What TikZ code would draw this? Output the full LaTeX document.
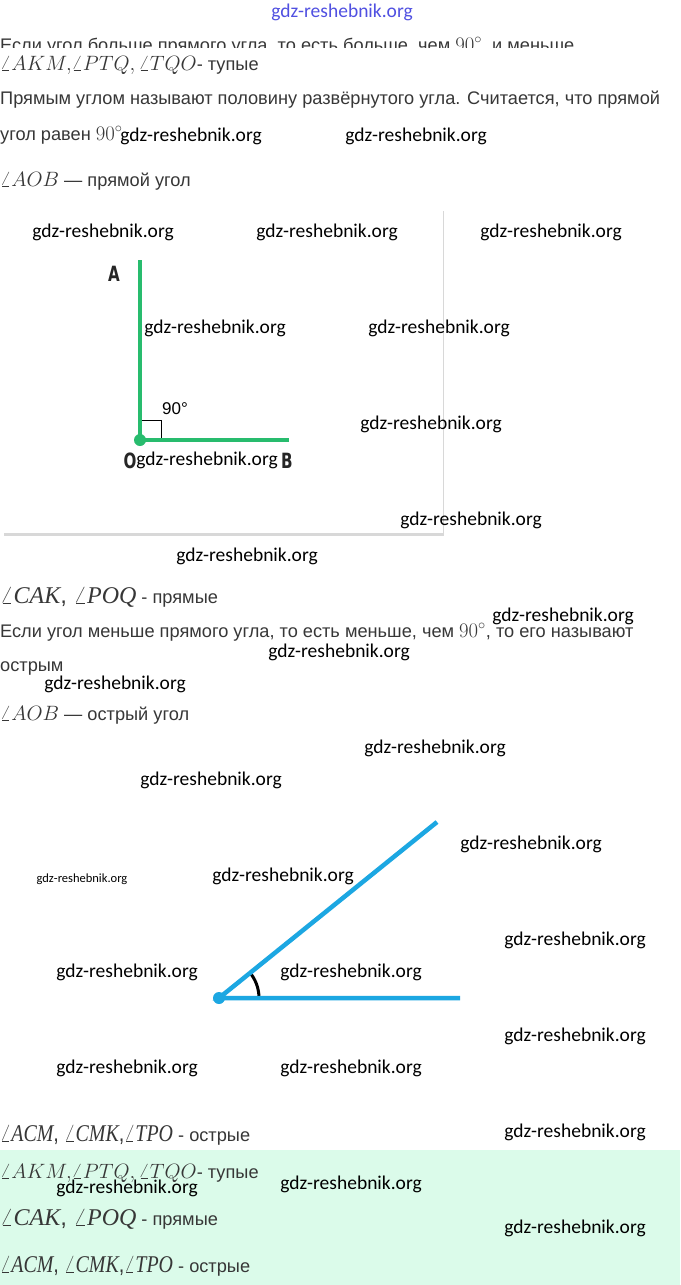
\documentclass[tikz,border=0pt]{standalone}
\usepackage{fontspec}
\usepackage{graphicx}
\setmainfont{Liberation Sans}
\newfontfamily\wmfont{Carlito}
\newfontfamily\timesf{Liberation Serif}
\newfontfamily\condf{DejaVu Sans}[FakeStretch=0.72]
\usetikzlibrary{shadows}
\definecolor{txt}{RGB}{55,55,55}
\definecolor{mint}{RGB}{219,251,234}
\definecolor{gline}{RGB}{40,188,110}
\definecolor{bline}{RGB}{28,167,226}
\definecolor{wmblue}{RGB}{80,80,225}
\tikzset{
  wm/.style={font=\wmfont\fontsize{19.5}{20}\selectfont, text=black, inner sep=0pt},
  wmsmall/.style={font=\wmfont\fontsize{12.5}{13}\selectfont, text=black, inner sep=0pt},
  body/.style={font=\fontsize{18.2}{20}\selectfont, text=txt, inner sep=0pt, anchor=base west},
  lbl/.style={font=\condf\bfseries\fontsize{21}{22}\selectfont, text=black!85, inner sep=0pt},
}
\newcommand\mbig{\fontsize{22.5}{26}\selectfont}
\newcommand\mtimes{\fontsize{24}{26}\selectfont}
\newcommand\tang[1]{$\angle${\timesf\itshape #1}}
\newcommand\acmline{\scalebox{0.83}[1]{\mtimes\tang{ACM}, \tang{CMK},\tang{TPO}}}
\begin{document}
\begin{tikzpicture}[x=1pt,y=-1pt]
\useasboundingbox (0,0) rectangle (680,1285);
\fill[white] (0,0) rectangle (680,1285);
\fill[mint] (0,1150) rectangle (680,1285);

% top watermark
\node[font=\wmfont\fontsize{19.5}{20}\selectfont, text=wmblue, inner sep=0pt] (wtop) at (342,12) {gdz-reshebnik.org};

% clipped line
\begin{scope}
\clip (0,30) rectangle (680,47);
\node[body] (clipline) at (0,51) {Если угол больше прямого угла, то есть больше, чем {\mbig$90^\circ$}, и меньше};
\end{scope}

\node[body] (l1) at (0,70) {{\mbig$\angle AKM,\!\angle PTQ,\angle TQO$}- тупые};
\node[body] (l2) at (0,104) {Прямым углом называют половину развёрнутого угла. Считается, что прямой};
\node[body] (l3) at (0,140) {угол равен {\mbig$90^\circ$}};
\node[body] (l4) at (0,186) {{\mbig$\angle AOB$} — прямой угол};

% box
\fill[white, drop shadow={shadow xshift=1pt, shadow yshift=-2.5pt, opacity=0.3, fill=gray}] (3,208) rectangle (443,533);

% right angle
\coordinate (O) at (140,440);
\coordinate (A) at (140,260);
\coordinate (B) at (289,440);
\draw[black, line width=0.9pt] (140,420) -- (161,420) -- (161,440);
\draw[gline, line width=4pt] (A) -- (O) -- (B);
\fill[gline] (O) circle (6);
\node[lbl] (la) at (114,274) {A};
\node[font=\fontsize{17}{18}\selectfont, text=black, inner sep=0pt] (l90) at (175,409) {90°};
\node[lbl] (lo) at (130,461) {O};
\node[lbl] (lb) at (287,461) {B};

\node[body] (l5) at (0,603) {{\mtimes\tang{CAK}, \tang{POQ}} - прямые};
\node[body] (l6) at (0,637) {Если угол меньше прямого угла, то есть меньше, чем {\mbig$90^\circ$}, то его называют};
\node[body] (l7) at (0,671) {острым};
\node[body] (l8) at (0,720) {{\mbig$\angle AOB$} — острый угол};

% acute angle
\coordinate (V) at (219,998);
\coordinate (H) at (460,998);
\coordinate (U) at (437,822);
\draw[black, line width=3pt] (V) ++(40,0) arc[start angle=0, end angle=-36, radius=40];
\draw[bline, line width=4.5pt] (U) -- (V) -- (H);
\fill[bline] (V) circle (6);

\node[body] (l9) at (0,1141) {\acmline{} - острые};
\node[body] (l10) at (0,1178) {{\mbig$\angle AKM,\!\angle PTQ,\angle TQO$}- тупые};
\node[body] (l11) at (0,1225) {{\mtimes\tang{CAK}, \tang{POQ}} - прямые};
\node[body] (l12) at (0,1272) {\acmline{} - острые};

% watermarks
\foreach \x/\y [count=\i] in {191/136,416/136,103/232,327/232,551/232,215/328,439/328,431/424,207/460,471/520,247/556,563/616,339/652,115/684,435/748,211/780,531/844,283/876,575/940,127/972,351/972,575/1036,127/1068,351/1068,575/1132,127/1188,351/1184,575/1228}
  \node[wm] (w\i) at (\x,\y) {gdz-reshebnik.org};
\node[wmsmall] (ws) at (82,879) {gdz-reshebnik.org};
\end{tikzpicture}
\end{document}
